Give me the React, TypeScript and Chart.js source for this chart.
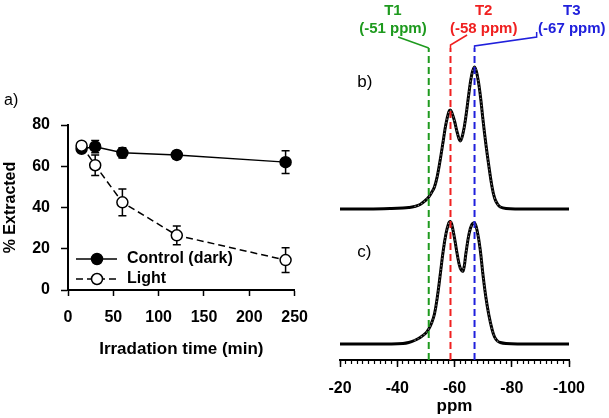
import React, { useEffect, useRef } from 'react';
import { Chart, registerables } from 'chart.js';

Chart.register(...registerables);

const FAM = "'Liberation Sans', Arial, Helvetica, sans-serif";

// ---------- Panel a) data ----------
const timeMin = [15, 30, 60, 120, 240];
const controlDark = [68.5, 69.5, 66.5, 65.5, 62];
const controlErr = [1.5, 3, 2.5, 2, 5.5];
const lightVals = [70, 60.5, 42.5, 26.5, 14.5];
const lightErr = [1, 5, 6.5, 4.5, 6];
const seriesNames = ['Control (dark)', 'Light'];
const xTicksA = [0, 50, 100, 150, 200, 250];
const yTicksA = [0, 20, 40, 60, 80];
const xTitleA = 'Irradation time (min)';
const yTitleA = '% Extracted';

// ---------- Panels b) c) data ----------
const ppm = [-20, -30, -38, -42, -44, -46, -48, -50, -51, -52, -53, -54, -55, -56, -57, -58, -58.5, -59, -60, -61, -62, -63, -64, -65, -66, -67, -68, -69, -70, -71, -72, -73, -74, -75, -76, -78, -82, -90, -100];
const spectrumB = [151, 151, 151.5, 152, 152.5, 153.5, 155.5, 160, 163, 167.5, 173, 184, 200, 218, 236, 248, 250, 248, 239, 227, 219, 227, 244, 266, 285, 293, 284, 265, 239, 215, 194, 175, 162, 156, 153, 151.5, 151, 151, 151];
const spectrumC = [16, 16, 16, 16.5, 17.5, 19.5, 22.5, 27, 31, 37, 46, 63, 85, 108, 126, 137, 138.5, 136, 122, 105, 92, 89, 107, 125, 135, 137, 128, 110, 84, 62, 45, 32, 23, 19, 17.5, 16.5, 16, 16, 16];
const ppmTicks = [-20, -40, -60, -80, -100];
const markerPpm = [-51, -58.6, -67];
const markerNames = ['T1', 'T2', 'T3'];
const markerLabels = ['(-51 ppm)', '(-58 ppm)', '(-67 ppm)'];
const markerColors = ['#1e9a1e', '#f02020', '#2020dc'];
const labelPpm = [-38.5, -70.2, -101];
const calloutX = [[-51, -40.3], [-58.6, -58.6, -64.4], [-67, -67, -88.7, -88.7]];
const calloutY = [[312, 323], [312, 315, 325], [312, 314, 323, 328]];
const panelNames = ['b)', 'c)'];
const xTitleB = 'ppm';

export default function App() {
  const leftRef = useRef<HTMLCanvasElement>(null);
  const rightRef = useRef<HTMLCanvasElement>(null);

  useEffect(() => {
    const errorBars = {
      id: 'errorBars',
      beforeDatasetsDraw(chart: any) {
        const { ctx, scales } = chart;
        const x = scales.x, y = scales.y;
        ctx.save();
        ctx.strokeStyle = '#000';
        ctx.lineWidth = 1.5;
        const series: [number[], number[]][] = [[controlDark, controlErr], [lightVals, lightErr]];
        series.forEach(([vals, errs]) => {
          vals.forEach((v, i) => {
            const px = x.getPixelForValue(timeMin[i]);
            const t = y.getPixelForValue(v + errs[i]);
            const b = y.getPixelForValue(v - errs[i]);
            ctx.beginPath();
            ctx.moveTo(px, t); ctx.lineTo(px, b);
            ctx.moveTo(px - 4, t); ctx.lineTo(px + 4, t);
            ctx.moveTo(px - 4, b); ctx.lineTo(px + 4, b);
            ctx.stroke();
          });
        });
        ctx.restore();
      },
    };

    const legendA = {
      id: 'legendA',
      afterDraw(chart: any) {
        const { ctx, chartArea } = chart;
        const { left, top, bottom } = chartArea;
        ctx.save();
        const items = [
          { label: seriesNames[0], dash: [] as number[], fill: '#000' },
          { label: seriesNames[1], dash: [7, 4], fill: '#fff' },
        ];
        items.forEach((it, k) => {
          const yy = bottom - 31 + k * 20;
          ctx.strokeStyle = '#000';
          ctx.lineWidth = 1.5;
          ctx.setLineDash(it.dash);
          ctx.beginPath();
          ctx.moveTo(left + 8, yy); ctx.lineTo(left + 49, yy);
          ctx.stroke();
          ctx.setLineDash([]);
          ctx.beginPath();
          ctx.arc(left + 29, yy, 5.5, 0, Math.PI * 2);
          ctx.fillStyle = it.fill;
          ctx.fill();
          ctx.stroke();
          ctx.fillStyle = '#000';
          ctx.font = `bold 16px ${FAM}`;
          ctx.textAlign = 'left';
          ctx.textBaseline = 'middle';
          ctx.fillText(it.label, left + 59, yy);
        });
        ctx.font = `16px ${FAM}`;
        ctx.textAlign = 'left';
        ctx.textBaseline = 'middle';
        ctx.fillText('a)', left - 64, top - 24);
        ctx.restore();
      },
    };

    const left = new Chart(leftRef.current as HTMLCanvasElement, {
      type: 'line',
      data: {
        datasets: [
          {
            label: seriesNames[0],
            data: timeMin.map((t, i) => ({ x: t, y: controlDark[i] })),
            borderColor: '#000',
            borderWidth: 1.5,
            pointRadius: 5.5,
            pointBackgroundColor: '#000',
            pointBorderColor: '#000',
            pointBorderWidth: 1.5,
            order: 2,
          },
          {
            label: seriesNames[1],
            data: timeMin.map((t, i) => ({ x: t, y: lightVals[i] })),
            borderColor: '#000',
            borderWidth: 1.5,
            borderDash: [7, 4],
            pointRadius: 5.5,
            pointBackgroundColor: '#fff',
            pointBorderColor: '#000',
            pointBorderWidth: 1.5,
            order: 1,
          },
        ],
      },
      options: {
        responsive: false,
        animation: false,
        layout: { padding: { left: 0, right: 24, top: 125, bottom: 58 } },
        plugins: { legend: { display: false }, tooltip: { enabled: false } },
        scales: {
          x: {
            type: 'linear',
            min: 0,
            max: 250,
            afterBuildTicks: (s: any) => { s.ticks = xTicksA.map((v) => ({ value: v })); },
            afterFit: (s: any) => { s.height = 70; },
            grid: { drawOnChartArea: false, tickLength: 6, tickWidth: 1.5, tickColor: '#000' },
            border: { color: '#000', width: 2 },
            ticks: { color: '#000', font: { family: FAM, size: 16, weight: 'bold' }, padding: 12, maxRotation: 0, autoSkip: false },
            title: { display: true, text: xTitleA, color: '#000', font: { family: FAM, size: 17, weight: 'bold' }, padding: { top: 0, bottom: 0 } },
          },
          y: {
            type: 'linear',
            min: 0,
            max: 80,
            afterBuildTicks: (s: any) => { s.ticks = yTicksA.map((v) => ({ value: v })); },
            afterFit: (s: any) => { s.width = 68; },
            grid: { drawOnChartArea: false, tickLength: 7, tickWidth: 1.5, tickColor: '#000' },
            border: { color: '#000', width: 2 },
            ticks: { color: '#000', font: { family: FAM, size: 16, weight: 'bold' }, padding: 11, autoSkip: false },
            title: { display: true, text: yTitleA, color: '#000', font: { family: FAM, size: 16, weight: 'bold' }, padding: { top: 1, bottom: 0 } },
          },
        },
      } as any,
      plugins: [errorBars, legendA],
    });

    const peakIdx = ppm.map((p, i) => i).filter((i) => ppm[i] <= -46 && ppm[i] >= -77);
    const specDatasets = [
      { vals: spectrumB, name: 'b' },
      { vals: spectrumC, name: 'c' },
    ];

    const markerSets = markerPpm.map((m, i) => ({
      label: markerNames[i],
      data: [{ x: m, y: 0 }, { x: m, y: 312 }],
      borderColor: markerColors[i],
      borderWidth: 2,
      borderDash: [7, 4],
      pointRadius: 0,
      order: 1,
    }));
    const calloutSets = calloutX.map((xs, i) => ({
      label: markerNames[i] + ' callout',
      data: xs.map((xv, j) => ({ x: xv, y: calloutY[i][j] })),
      borderColor: markerColors[i],
      borderWidth: 1.5,
      pointRadius: 0,
      clip: false,
      order: 1,
    }));
    const dotSets = specDatasets.map((s) => ({
      label: s.name + ' data',
      data: peakIdx.map((i) => ({ x: ppm[i], y: s.vals[i] })),
      borderColor: '#808080',
      borderWidth: 1.2,
      borderDash: [1.2, 2.4],
      tension: 0.4,
      pointRadius: 0,
      order: 2,
    }));
    const lineSets = specDatasets.map((s) => ({
      label: s.name + ' fit',
      data: ppm.map((p, i) => ({ x: p, y: s.vals[i] })),
      borderColor: '#000',
      borderWidth: 3,
      tension: 0.4,
      pointRadius: 0,
      order: 3,
    }));

    const labelsB = {
      id: 'labelsB',
      afterDraw(chart: any) {
        const { ctx, scales } = chart;
        const x = scales.x, y = scales.y;
        ctx.save();
        ctx.font = `bold 15px ${FAM}`;
        ctx.textAlign = 'center';
        ctx.textBaseline = 'middle';
        markerNames.forEach((n, i) => {
          ctx.fillStyle = markerColors[i];
          const px = x.getPixelForValue(labelPpm[i]);
          ctx.fillText(n, px, y.getPixelForValue(349));
          ctx.fillText(markerLabels[i], px, y.getPixelForValue(331));
        });
        ctx.fillStyle = '#000';
        ctx.font = `17px ${FAM}`;
        ctx.textAlign = 'left';
        const panelY = [278, 108];
        panelNames.forEach((n, i) => {
          ctx.fillText(n, x.getPixelForValue(-26), y.getPixelForValue(panelY[i]));
        });
        ctx.restore();
      },
    };

    const right = new Chart(rightRef.current as HTMLCanvasElement, {
      type: 'line',
      data: { datasets: [...markerSets, ...calloutSets, ...dotSets, ...lineSets] as any },
      options: {
        responsive: false,
        animation: false,
        layout: { padding: { left: 40, right: 40, top: 48, bottom: 0 } },
        plugins: { legend: { display: false }, tooltip: { enabled: false } },
        scales: {
          x: {
            type: 'linear',
            min: -100,
            max: -20,
            reverse: true,
            position: 'bottom',
            weight: 1,
            afterBuildTicks: (s: any) => { s.ticks = ppmTicks.map((v) => ({ value: v })); },
            afterFit: (s: any) => { s.height = 58; },
            grid: { drawOnChartArea: false, tickLength: 7, tickWidth: 1.5, tickColor: '#000' },
            border: { color: '#000', width: 2 },
            ticks: { color: '#000', font: { family: FAM, size: 16, weight: 'bold' }, padding: 12, maxRotation: 0, autoSkip: false, callback: (v: any) => String(v) },
            title: { display: true, text: xTitleB, color: '#000', font: { family: FAM, size: 17, weight: 'bold' }, padding: { top: 0, bottom: 1 } },
          },
          xMinor: {
            type: 'linear',
            axis: 'x',
            min: -100,
            max: -20,
            reverse: true,
            position: 'bottom',
            weight: 0,
            afterFit: (s: any) => { s.height = 0; },
            grid: { drawOnChartArea: false, tickLength: 4, tickWidth: 1.2, tickColor: '#000' },
            border: { display: false },
            ticks: { display: false, stepSize: 2, maxTicksLimit: 100, autoSkip: false },
          },
          y: { type: 'linear', display: false, min: 0, max: 312 },
        },
      } as any,
      plugins: [labelsB],
    });

    return () => {
      left.destroy();
      right.destroy();
    };
  }, []);

  return (
    <div style={{ position: 'fixed', left: 0, top: 0, width: 609, height: 418, background: '#fff' }}>
      <div style={{ position: 'absolute', left: 0, top: 0, width: 320, height: 418 }}>
        <canvas ref={leftRef} width={320} height={418} />
      </div>
      <div style={{ position: 'absolute', left: 300, top: 0, width: 309, height: 418 }}>
        <canvas ref={rightRef} width={309} height={418} />
      </div>
    </div>
  );
}
